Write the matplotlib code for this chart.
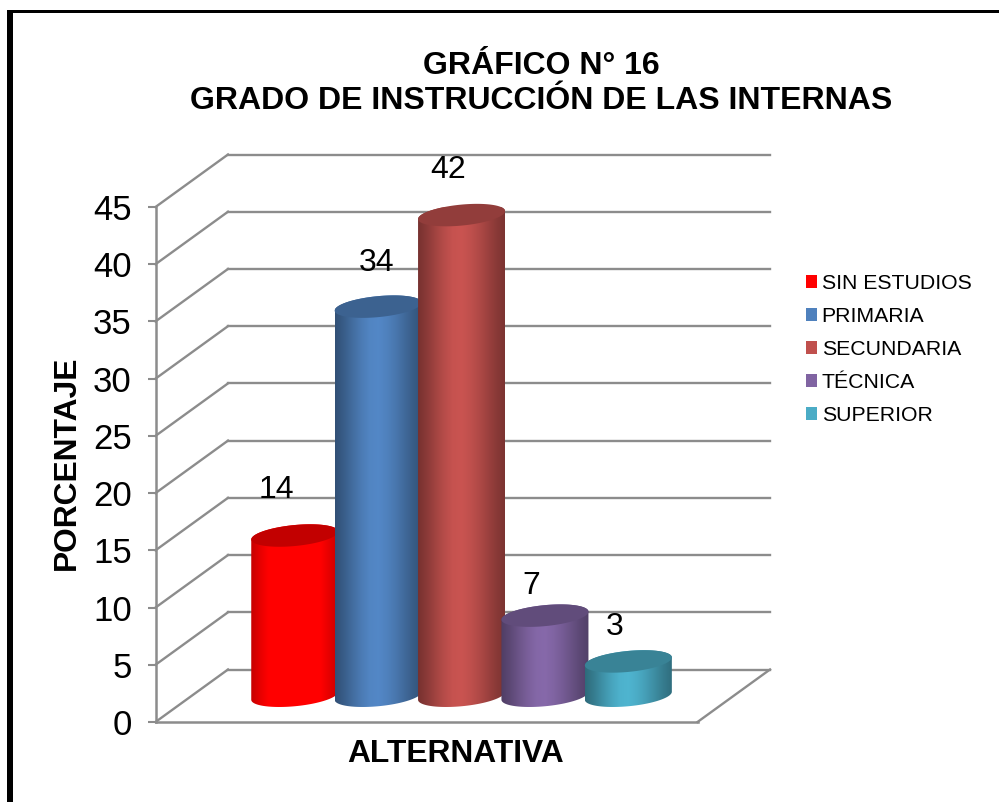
import numpy as np
import matplotlib
matplotlib.use("Agg")
import matplotlib.pyplot as plt
from matplotlib.patches import Polygon, Patch, Rectangle
from matplotlib.colors import LinearSegmentedColormap, to_rgb

plt.rcParams['font.family'] = ['Liberation Sans', 'DejaVu Sans']

categories = ["SIN ESTUDIOS", "PRIMARIA", "SECUNDARIA", "TÉCNICA", "SUPERIOR"]
values = [14, 34, 42, 7, 3]
colors = ["#FF0000", "#4F81BD", "#C0504D", "#8064A2", "#4BACC6"]
y_ticks = list(range(0, 50, 5))
title = "GRÁFICO N° 16\nGRADO DE INSTRUCCIÓN DE LAS INTERNAS"
y_label = "PORCENTAJE"
x_label = "ALTERNATIVA"
label_offsets_px = [(-18, 46), (-2, 44), (-13, 45), (-14, 30), (-14, 34)]

W, H = 999, 802
GRAY = "#8c8c8c"
fig = plt.figure(figsize=(W / 100, H / 100), dpi=100)
ax = fig.add_axes([155.5 / W, (H - 722) / H, 542 / W, 515 / H])
PX = 83.4                      # pixels per bar slot
ax.set_xlim(0, 542 / PX)
ax.set_ylim(0, 45)
PY = 515 / 45                  # pixels per unit
DX, DY = 72.5 / PX, 52.5 / PY  # depth offset of the back wall

# walls and floor
for v in y_ticks:
    ax.plot([0, DX], [v, v + DY], color=GRAY, lw=1.7, clip_on=False, zorder=1)
    ax.plot([DX, 542 / PX + DX], [v + DY, v + DY], color=GRAY, lw=1.7, clip_on=False, zorder=1)
ax.plot([542 / PX, 542 / PX + DX], [0, DY], color=GRAY, lw=1.7, clip_on=False, zorder=1)

for s in ("top", "right"):
    ax.spines[s].set_visible(False)
for s in ("left", "bottom"):
    ax.spines[s].set_color(GRAY)
    ax.spines[s].set_linewidth(1.8)
ax.set_xticks([])
ax.set_yticks(y_ticks)
ax.tick_params(axis="y", length=6, width=1.5, color=GRAY, labelsize=25, pad=11)

# shaded cylinders
SHADE = np.array([0.62, 0.72, 0.84, 0.95, 1.03, 1.05, 1.0, 0.92, 0.82, 0.72, 0.64])
A, B, K = 43.5 / PX, 10.5 / PY, 4 / PY
X0 = 1.235
for i, (v, c) in enumerate(zip(values, colors)):
    cx = X0 + i + DX / 2
    y0 = DY / 2
    yt = y0 + v
    rgb = np.array(to_rgb(c))
    if i == 0:
        ramp = [tuple(rgb * np.array([min(1, s * 1.25), 1, 1])) for s in SHADE]
    else:
        ramp = [tuple(np.clip(rgb * s, 0, 1)) for s in SHADE]
    cmap = LinearSegmentedColormap.from_list("c%d" % i, ramp)
    t_up = np.linspace(np.pi, 0, 80)
    t_dn = np.linspace(0, -np.pi, 80)
    xs = np.r_[cx + A * np.cos(t_up), cx + A * np.cos(t_dn)]
    ys = np.r_[yt + B * np.sin(t_up) + K * np.cos(t_up),
               y0 + B * np.sin(t_dn) + K * np.cos(t_dn)]
    body = Polygon(np.c_[xs, ys], closed=True, transform=ax.transData, fc="none", ec="none")
    ax.add_patch(body)
    im = ax.imshow(np.linspace(0, 1, 256)[None, :], cmap=cmap, aspect="auto",
                   extent=(cx - A, cx + A, ys.min(), ys.max()), zorder=3 + i,
                   interpolation="bilinear")
    im.set_clip_path(body)
    t = np.linspace(0, 2 * np.pi, 160)
    ax.add_patch(Polygon(np.c_[cx + A * np.cos(t), yt + B * np.sin(t) + K * np.cos(t)],
                         closed=True, fc=tuple(rgb * 0.76), ec="none", zorder=3 + i, clip_on=False))
    ox, oy = label_offsets_px[i]
    ax.annotate(str(v), xy=(cx, yt), xytext=(ox * 0.72, oy * 0.72), textcoords="offset points",
                ha="center", va="center", fontsize=23, color="black", zorder=20, annotation_clip=False)

ax.set_xlim(0, 542 / PX)
ax.set_ylim(0, 45)
ax.set_zorder(2)

# texts
fig.text(541 / W, 1 - 83.5 / H, title, ha="center", va="center", fontsize=23,
         fontweight="bold", linespacing=1.25)
fig.text(455.5 / W, 1 - 754 / H, x_label, ha="center", va="center", fontsize=22.9, fontweight="bold")
fig.text(67 / W, 1 - 463 / H, y_label, ha="center", va="center", rotation=90, fontsize=22.9, fontweight="bold")

# legend
handles = [Patch(fc=c, ec="none") for c in colors]
fig.legend(handles, categories, loc="upper left", bbox_to_anchor=(806 / W, 1 - 274 / H),
           frameon=False, fontsize=15.3, handlelength=0.52, handleheight=0.52,
           handletextpad=0.22, labelspacing=0.66, borderpad=0, borderaxespad=0)

# black frame
fig.add_artist(Rectangle((7 / W, 0), 6 / W, 1 - 10 / H, transform=fig.transFigure, fc="black", ec="none"))
fig.add_artist(Rectangle((7 / W, 1 - 13 / H), 1 - 7 / W, 3 / H, transform=fig.transFigure, fc="black", ec="none"))

fig.savefig("out.png", dpi=100)
